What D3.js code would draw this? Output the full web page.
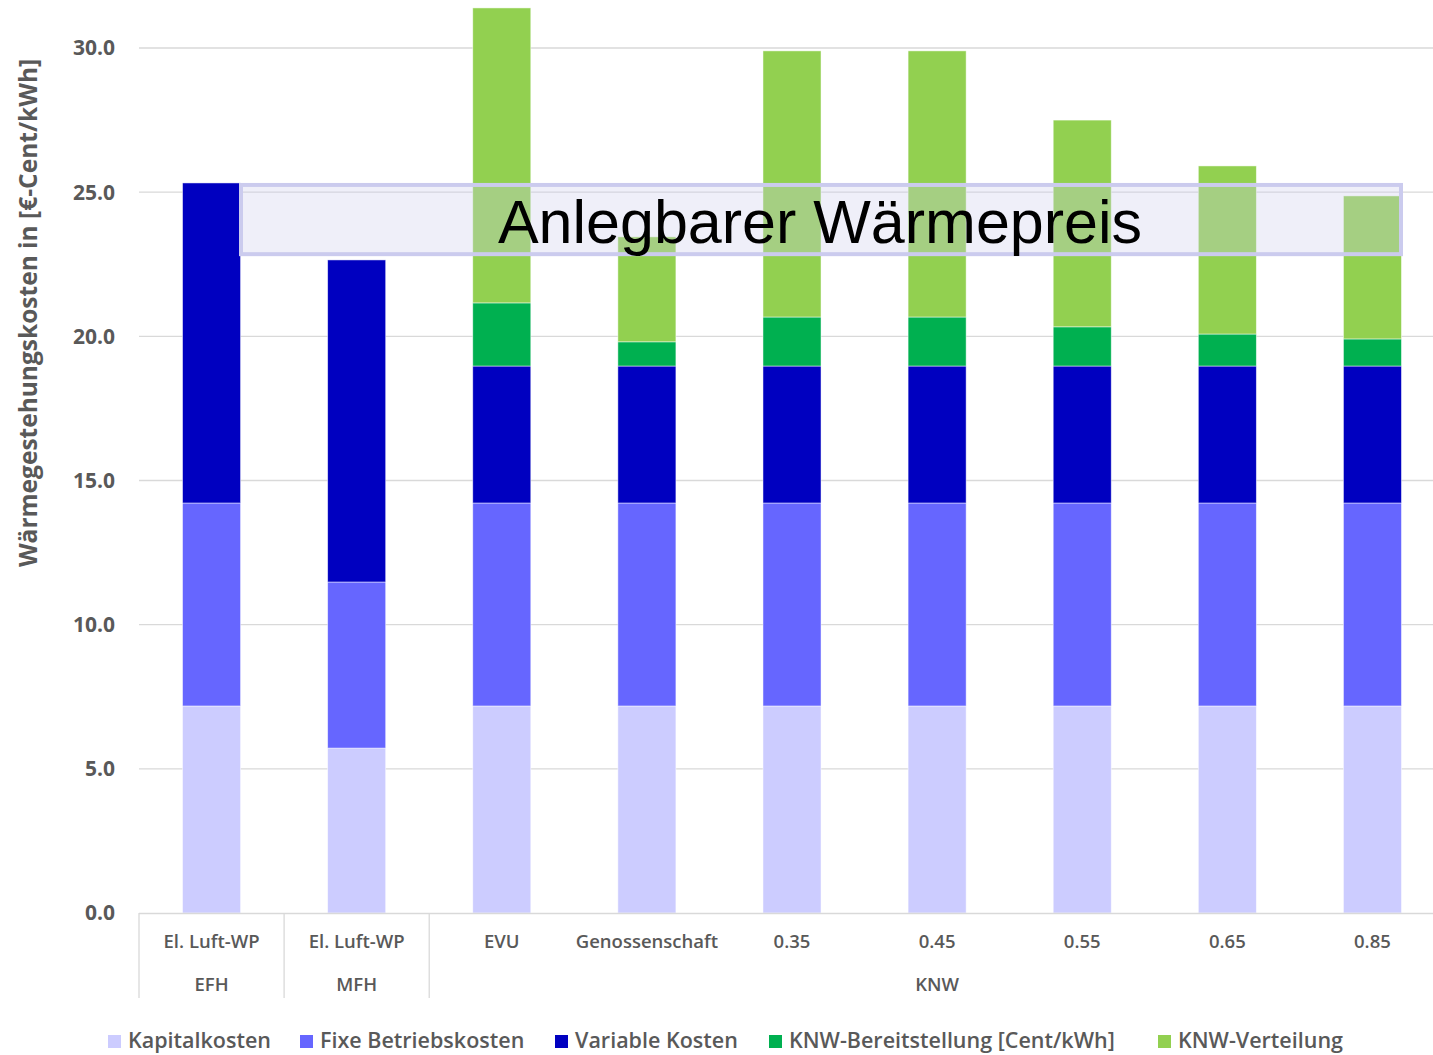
<!DOCTYPE html>
<html>
<head>
<meta charset="utf-8">
<script src="https://cdn.jsdelivr.net/npm/d3@7"></script>
<style>
  body { margin: 0; background: #fff; }
  svg { display: block; }
</style>
</head>
<body>
<div id="chart"></div>
<script>
// categories (two-level axis)
const categories = ["El. Luft-WP|EFH", "El. Luft-WP|MFH", "EVU", "Genossenschaft", "0.35", "0.45", "0.55", "0.65", "0.85"];
const catLabels = ["El. Luft-WP", "El. Luft-WP", "EVU", "Genossenschaft", "0.35", "0.45", "0.55", "0.65", "0.85"];
const groups = [
  { name: "EFH", from: 0, to: 0 },
  { name: "MFH", from: 1, to: 1 },
  { name: "KNW", from: 2, to: 8 }
];

// series
const seriesNames = ["Kapitalkosten", "Fixe Betriebskosten", "Variable Kosten", "KNW-Bereitstellung [Cent/kWh]", "KNW-Verteilung"];
const seriesColors = ["#ccccff", "#6666ff", "#0000c0", "#00b050", "#92d050"];
const kapital   = [7.18, 5.72, 7.18, 7.18, 7.18, 7.18, 7.18, 7.18, 7.18];
const fixe      = [7.04, 5.76, 7.04, 7.04, 7.04, 7.04, 7.04, 7.04, 7.04];
const variabel  = [11.10, 11.17, 4.75, 4.75, 4.75, 4.75, 4.75, 4.75, 4.75];
const bereit    = [0, 0, 2.19, 0.84, 1.70, 1.70, 1.36, 1.11, 0.94];
const verteil   = [0, 0, 10.23, 3.64, 9.23, 9.23, 7.17, 5.83, 4.96];

const yTicks = [0, 5, 10, 15, 20, 25, 30];
const priceBand = [22.85, 25.25]; // "Anlegbarer Wärmepreis" overlay (value range)

const W = 1433, H = 1055;
const svg = d3.select("#chart").append("svg").attr("width", W).attr("height", H);

const x = d3.scaleBand().domain(categories).range([139, 1445]).paddingInner(0.6).paddingOuter(0.3);
const y = d3.scaleLinear().domain([0, 30]).range([913, 48]);

const grey = "#595959";
const font = "'Open Sans', 'DejaVu Sans', sans-serif";

// gridlines
svg.append("g").selectAll("line").data(yTicks.filter(t => t > 0)).join("line")
  .attr("x1", 139).attr("x2", W).attr("y1", d => y(d)).attr("y2", d => y(d))
  .attr("stroke", "#d9d9d9").attr("stroke-width", 1.3);

// y tick labels
svg.append("g").selectAll("text").data(yTicks).join("text")
  .attr("x", 115).attr("y", d => y(d)).attr("dy", "0.35em")
  .attr("text-anchor", "end").attr("fill", grey)
  .attr("font-family", font).attr("font-weight", 700).attr("font-size", 21)
  .text(d => d.toFixed(1));

// y axis title
svg.append("text")
  .attr("transform", `translate(37,313) rotate(-90)`)
  .attr("text-anchor", "middle").attr("fill", grey)
  .attr("font-family", font).attr("font-weight", 700).attr("font-size", 24.5)
  .text("Wärmegestehungskosten in [€-Cent/kWh]");

// stacked bars
const rows = categories.map((c, i) => ({
  cat: c,
  s0: kapital[i], s1: fixe[i], s2: variabel[i], s3: bereit[i], s4: verteil[i]
}));
const stack = d3.stack().keys(["s0", "s1", "s2", "s3", "s4"]);
const stacked = stack(rows);

svg.append("g").selectAll("g").data(stacked).join("g")
  .attr("fill", (d, i) => seriesColors[i])
  .selectAll("rect").data(d => d.filter(v => v[1] - v[0] > 0)).join("rect")
  .attr("x", d => x(d.data.cat))
  .attr("width", x.bandwidth())
  .attr("y", d => y(d[1]))
  .attr("height", d => y(d[0]) - y(d[1]))
  .attr("stroke", "rgba(255,255,255,0.6)").attr("stroke-width", 0.8);

// category axis
const axisG = svg.append("g");
axisG.append("line").attr("x1", 139).attr("x2", W).attr("y1", 913.5).attr("y2", 913.5)
  .attr("stroke", "#d9d9d9").attr("stroke-width", 1.3);
const step = x.step();
const bandLeft = i => 139 + i * step;
[0, 1, 2].forEach(i => {
  axisG.append("line")
    .attr("x1", bandLeft(i)).attr("x2", bandLeft(i))
    .attr("y1", 913).attr("y2", 998)
    .attr("stroke", "#d9d9d9").attr("stroke-width", 1.3);
});
axisG.selectAll("text.cat").data(categories).join("text")
  .attr("class", "cat")
  .attr("x", d => x(d) + x.bandwidth() / 2).attr("y", 942).attr("dy", "0.35em")
  .attr("text-anchor", "middle").attr("fill", grey)
  .attr("font-family", font).attr("font-weight", 600).attr("font-size", 18.5)
  .text((d, i) => catLabels[i]);
axisG.selectAll("text.grp").data(groups).join("text")
  .attr("class", "grp")
  .attr("x", g => (bandLeft(g.from) + bandLeft(g.to + 1)) / 2).attr("y", 985).attr("dy", "0.35em")
  .attr("text-anchor", "middle").attr("fill", grey)
  .attr("font-family", font).attr("font-weight", 600).attr("font-size", 18.5)
  .text(g => g.name);

// overlay box
const boxX0 = 241, boxX1 = 1401;
svg.append("rect")
  .attr("x", boxX0).attr("y", y(priceBand[1]))
  .attr("width", boxX1 - boxX0).attr("height", y(priceBand[0]) - y(priceBand[1]))
  .attr("fill", "rgb(205,205,236)").attr("fill-opacity", 0.32)
  .attr("stroke", "#cbcbee").attr("stroke-width", 4);
svg.append("text")
  .attr("x", 820).attr("y", 243)
  .attr("text-anchor", "middle").attr("fill", "#000")
  .attr("font-family", "'Liberation Sans', Arial, sans-serif").attr("font-size", 61)
  .text("Anlegbarer Wärmepreis");

// legend
const legendX = [108, 300, 555, 769, 1158];
const lg = svg.append("g").selectAll("g").data(seriesNames).join("g")
  .attr("transform", (d, i) => `translate(${legendX[i]},1041)`);
lg.append("rect").attr("x", 0).attr("y", -6).attr("width", 13).attr("height", 13)
  .attr("fill", (d, i) => seriesColors[i]);
lg.append("text").attr("x", 20).attr("y", 6.5)
  .attr("fill", grey).attr("font-family", font).attr("font-weight", 600).attr("font-size", 21.5)
  .text(d => d);
</script>
</body>
</html>
